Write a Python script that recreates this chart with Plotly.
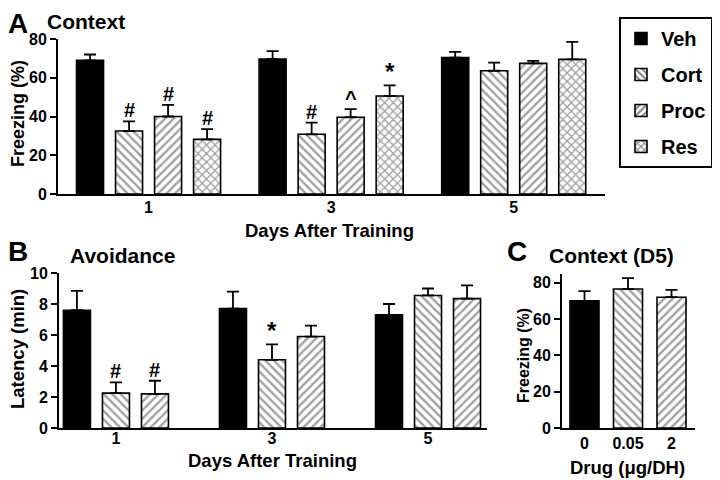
import plotly.graph_objects as go

# ---------------- data ----------------
days = ["1", "3", "5"]
groups_a = ["Veh", "Cort", "Proc", "Res"]
freeze_mean = {
    "Veh":  [69.0, 69.7, 70.4],
    "Cort": [32.5, 30.8, 63.6],
    "Proc": [40.0, 39.6, 67.4],
    "Res":  [28.2, 50.6, 69.5],
}
freeze_err = {
    "Veh":  [3.0, 4.0, 3.0],
    "Cort": [5.0, 6.0, 4.2],
    "Proc": [6.0, 4.2, 1.3],
    "Res":  [5.3, 5.5, 9.0],
}
freeze_sig = {
    "Veh":  ["", "", ""],
    "Cort": ["#", "#", ""],
    "Proc": ["#", "^", ""],
    "Res":  ["#", "*", ""],
}

groups_b = ["Veh", "Cort", "Proc"]
latency_mean = {
    "Veh":  [7.6, 7.7, 7.3],
    "Cort": [2.25, 4.4, 8.55],
    "Proc": [2.2, 5.9, 8.35],
}
latency_err = {
    "Veh":  [1.25, 1.1, 0.7],
    "Cort": [0.7, 1.0, 0.45],
    "Proc": [0.85, 0.7, 0.85],
}
latency_sig = {
    "Veh":  ["", "", ""],
    "Cort": ["#", "*", ""],
    "Proc": ["#", "", ""],
}

doses = ["0", "0.05", "2"]
d5_mean = [70.0, 76.5, 72.0]
d5_err = [5.3, 6.0, 4.0]

# ---------------- styles ----------------
# the page body has an 8px margin, so the figure is drawn 8px in from the top-left
OFF = 8
W, H = 720 - OFF, 480 - OFF
FONT = "Liberation Sans, Arial, sans-serif"
fill = {"Veh": "black", "Cort": "white", "Proc": "white", "Res": "white"}
shape = {"Veh": "", "Cort": "\\", "Proc": "/", "Res": "x"}
dose_series = ["Veh", "Cort", "Proc"]


def bar_style(names):
    return dict(
        color=[fill[n] for n in names],
        line=dict(color="black", width=1.6),
        pattern=dict(shape=[shape[n] for n in names], fgcolor="black",
                     bgcolor="white", size=6, solidity=0.4),
    )


def err_style(err):
    return dict(type="data", array=err, arrayminus=[0] * len(err), symmetric=False,
                color="black", thickness=1.8, width=6)


fig = go.Figure()
annotations = []

# Panel A
slot_a, width_a = 0.2137, 0.148
n = len(groups_a)
for i, g in enumerate(groups_a):
    center = (i - (n - 1) / 2) * slot_a
    fig.add_trace(go.Bar(
        x=days, y=freeze_mean[g], name=g, legendgroup=g,
        offset=center - width_a / 2, width=width_a,
        marker=bar_style([g] * len(days)),
        error_y=err_style(freeze_err[g]),
        xaxis="x", yaxis="y", showlegend=True,
    ))
    for k, s in enumerate(freeze_sig[g]):
        if s:
            annotations.append(dict(x=k + center, y=freeze_mean[g][k] + freeze_err[g][k],
                                    xref="x", yref="y", text=s, showarrow=False,
                                    yanchor="bottom", yshift=-2,
                                    font=dict(size=24 if s == "*" else 20, family=FONT,
                                              weight="bold", color="black")))

# Panel B
slot_b, width_b = 0.25, 0.173
n = len(groups_b)
for i, g in enumerate(groups_b):
    center = (i - (n - 1) / 2) * slot_b
    fig.add_trace(go.Bar(
        x=days, y=latency_mean[g], name=g, legendgroup=g,
        offset=center - width_b / 2, width=width_b,
        marker=bar_style([g] * len(days)),
        error_y=err_style(latency_err[g]),
        xaxis="x2", yaxis="y2", showlegend=False,
    ))
    for k, s in enumerate(latency_sig[g]):
        if s:
            annotations.append(dict(x=k + center, y=latency_mean[g][k] + latency_err[g][k],
                                    xref="x2", yref="y2", text=s, showarrow=False,
                                    yanchor="bottom", yshift=-2,
                                    font=dict(size=24 if s == "*" else 20, family=FONT,
                                              weight="bold", color="black")))

# Panel C
width_c = 0.667
fig.add_trace(go.Bar(
    x=doses, y=d5_mean, name="D5", offset=-width_c / 2, width=width_c,
    marker=bar_style(dose_series), error_y=err_style(d5_err),
    xaxis="x3", yaxis="y3", showlegend=False,
))


def px_x(p):
    return (p - OFF) / W


def px_y(p):
    return 1 - (p - OFF) / H


tickfont = dict(family=FONT, size=16, weight="bold", color="black")
xcommon = dict(type="category", showline=True, linecolor="black", linewidth=2,
               ticks="", showgrid=False, zeroline=False, tickfont=tickfont,
               fixedrange=True, automargin=False)
ycommon = dict(showline=True, linecolor="black", linewidth=2, ticks="outside",
               ticklen=6, tickwidth=2, tickcolor="black", showgrid=False,
               zeroline=False, tickfont=tickfont, fixedrange=True, automargin=False)

fig.update_layout(
    width=W, height=H, margin=dict(l=0, r=0, t=0, b=0, pad=0, autoexpand=False),
    paper_bgcolor="white", plot_bgcolor="white", barmode="overlay",
    font=dict(family=FONT, color="black"),
    xaxis=dict(xcommon, domain=[px_x(58), px_x(605)], range=[-0.496, 2.5], anchor="y",
               categoryarray=days, categoryorder="array", ticklabelstandoff=-2),
    yaxis=dict(ycommon, domain=[px_y(194), px_y(39)], range=[0, 80], dtick=20, anchor="x"),
    xaxis2=dict(xcommon, domain=[px_x(59), px_x(487)], range=[-0.365, 2.378], anchor="y2",
                categoryarray=days, categoryorder="array", ticklabelstandoff=-5),
    yaxis2=dict(ycommon, domain=[px_y(428), px_y(273)], range=[0, 10], dtick=2, anchor="x2"),
    xaxis3=dict(xcommon, domain=[px_x(562), px_x(695)], range=[-0.517, 2.54], anchor="y3",
                categoryarray=doses, categoryorder="array"),
    yaxis3=dict(ycommon, domain=[px_y(428), px_y(273.6)], range=[0, 85], tickvals=[0, 20, 40, 60, 80],
                anchor="x3"),
    legend=dict(x=px_x(713), y=px_y(17), xanchor="right", yanchor="top",
                bordercolor="black", borderwidth=2, bgcolor="white",
                font=dict(family=FONT, size=20, weight="bold", color="black"),
                traceorder="grouped", tracegroupgap=7, itemclick=False),
    showlegend=True,
)


def txt(x, y, s, size, angle=0, xanchor="center", xshift=0):
    return dict(x=px_x(x), y=px_y(y), xref="paper", yref="paper", text=s, showarrow=False,
                xanchor=xanchor, yanchor="middle", textangle=angle, xshift=xshift,
                font=dict(family=FONT, size=size, weight="bold", color="black"))


annotations += [
    txt(8, 23, "A", 28, xanchor="left", xshift=-2),
    txt(45, 21, "Context", 21, xanchor="left"),
    txt(18, 114, "Freezing (%)", 18, angle=-90),
    txt(329, 230, "Days After Training", 18.5),
    txt(8, 252, "B", 28, xanchor="left", xshift=-2),
    txt(68, 255, "Avoidance", 21, xanchor="left"),
    txt(17, 349, "Latency (min)", 18.5, angle=-90),
    txt(272, 460, "Days After Training", 18.5),
    txt(505, 252, "C", 28, xanchor="left"),
    txt(611, 255, "Context (D5)", 21),
    txt(523, 356, "Freezing (%)", 16, angle=-90),
    txt(627, 467, "Drug (\u03bcg/DH)", 18.5),
]
fig.update_layout(annotations=annotations)

fig.write_html("out.html")
